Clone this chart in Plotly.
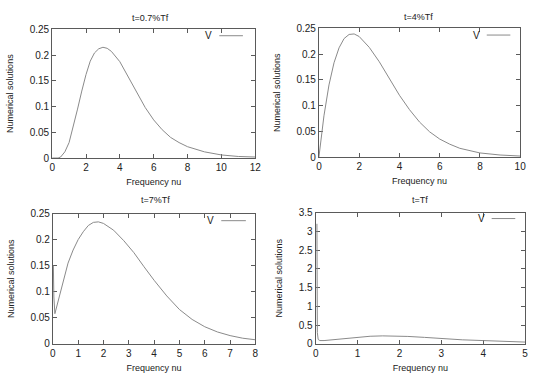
import plotly.graph_objects as go

# ---- data ----
x1 = [0, 0.35, 0.5, 0.75, 1.0, 1.25, 1.5, 1.75, 2.0, 2.25, 2.5, 2.75, 3.0, 3.25, 3.5, 4.0, 4.5, 5.0, 5.5, 6.0, 6.5, 7.0, 7.5, 8.0, 9.0, 10.0, 11.0, 12.0]
y1 = [0, 0.0, 0.002, 0.012, 0.03, 0.06, 0.095, 0.13, 0.162, 0.188, 0.204, 0.212, 0.215, 0.213, 0.207, 0.187, 0.158, 0.127, 0.098, 0.074, 0.055, 0.040, 0.030, 0.022, 0.012, 0.006, 0.003, 0.002]

x2 = [0, 0.1, 0.25, 0.5, 0.75, 1.0, 1.25, 1.5, 1.75, 2.0, 2.5, 3.0, 3.5, 4.0, 4.5, 5.0, 5.5, 6.0, 6.5, 7.0, 8.0, 9.0, 10.0]
y2 = [0, 0.035, 0.08, 0.14, 0.183, 0.212, 0.23, 0.238, 0.239, 0.234, 0.213, 0.185, 0.152, 0.12, 0.092, 0.068, 0.049, 0.035, 0.025, 0.017, 0.008, 0.004, 0.002]

x3 = [0.02, 0.04, 0.08, 0.2, 0.4, 0.6, 0.8, 1.0, 1.2, 1.4, 1.6, 1.8, 2.0, 2.4, 2.8, 3.2, 3.6, 4.0, 4.5, 5.0, 5.5, 6.0, 6.5, 7.0, 7.5, 8.0]
y3 = [0.15, 0.09, 0.058, 0.08, 0.122, 0.155, 0.18, 0.2, 0.215, 0.227, 0.233, 0.234, 0.231, 0.218, 0.198, 0.175, 0.148, 0.122, 0.092, 0.066, 0.047, 0.033, 0.023, 0.016, 0.011, 0.008]

x4 = [0.03, 0.033, 0.04, 0.06, 0.1, 0.2, 0.4, 0.7, 1.0, 1.3, 1.6, 1.9, 2.2, 2.6, 3.0, 3.5, 4.0, 4.5, 5.0]
y4 = [3.2, 1.5, 0.3, 0.12, 0.09, 0.09, 0.11, 0.15, 0.185, 0.205, 0.215, 0.213, 0.2, 0.175, 0.145, 0.11, 0.09, 0.07, 0.05]

titles = ["t=0.7%Tf", "t=4%Tf", "t=7%Tf", "t=Tf"]
xlabel = "Frequency nu"
ylabel = "Numerical solutions"
series_name = "V"

W, H = 537, 379
FONT = "Liberation Sans, Arial, sans-serif"
TXT = "#222222"
LINE = "#5a5a5a"
CURVE = "#8a8a8a"

# plot areas in pixels: (left, right, top, bottom)
boxes = [(50, 256.5, 24, 157), (321.3, 526, 23, 156), (50.7, 256.7, 214.3, 349), (318, 531, 213.3, 349)]
xr = [[0, 12], [0, 10], [0, 8], [0, 5]]
yr = [[0, 0.25], [0, 0.25], [0, 0.25], [0, 3.5]]
xdt = [2, 2, 1, 1]
ydt = [0.05, 0.05, 0.05, 0.5]
title_pos = [(150, 12), (423, 11), (155, 200.5), (424.5, 200)]
# legend key: (line start px, line end px, y px)
key_pos = [(220, 244, 30.7), (492, 516, 30), (222, 247, 221.7), (497, 521, 219.5)]

data = [(x1, y1), (x2, y2), (x3, y3), (x4, y4)]

fig = go.Figure()
layout = dict(width=W, height=H, margin=dict(l=0, r=0, t=0, b=0),
              paper_bgcolor="white", plot_bgcolor="white", showlegend=False,
              font=dict(family=FONT, size=9, color=TXT), annotations=[], shapes=[])

for i, ((xs, ys), (l, r, t, b)) in enumerate(zip(data, boxes)):
    n = "" if i == 0 else str(i + 1)
    fig.add_trace(go.Scatter(x=xs, y=ys, mode="lines", name=series_name,
                             line=dict(color=CURVE, width=1), cliponaxis=False,
                             xaxis="x" + n, yaxis="y" + n))
    axcommon = dict(showgrid=False, zeroline=False, showline=True, linecolor=LINE, linewidth=1,
                    mirror="ticks", ticks="inside", ticklen=4, tickcolor=LINE, layer="below traces",
                    tickfont=dict(size=10, color=TXT), title_font=dict(size=9, color=TXT))
    layout["xaxis" + n] = dict(axcommon, domain=[l / W, r / W], range=xr[i], dtick=xdt[i], tick0=0,
                               anchor="y" + n, title=dict(text=xlabel, standoff=6))
    layout["yaxis" + n] = dict(axcommon, domain=[1 - b / H, 1 - t / H], range=yr[i], dtick=ydt[i], tick0=0,
                               anchor="x" + n, title=dict(text=ylabel, standoff=14))
    tx, ty = title_pos[i]
    layout["annotations"].append(dict(text=titles[i], x=tx / W, y=1 - ty / H, xref="paper", yref="paper",
                                      xanchor="center", yanchor="middle", showarrow=False,
                                      font=dict(size=9, color=TXT)))
    k0, k1, ky = key_pos[i]
    layout["annotations"].append(dict(text=series_name, x=(k0 - 5) / W, y=1 - ky / H, xref="paper", yref="paper",
                                      xanchor="right", yanchor="middle", showarrow=False,
                                      font=dict(size=10, color=TXT)))
    layout["shapes"].append(dict(type="line", xref="paper", yref="paper",
                                 x0=k0 / W, x1=k1 / W, y0=1 - ky / H, y1=1 - ky / H,
                                 line=dict(color=CURVE, width=1)))

fig.update_layout(**layout)
fig.write_html("out.html")
